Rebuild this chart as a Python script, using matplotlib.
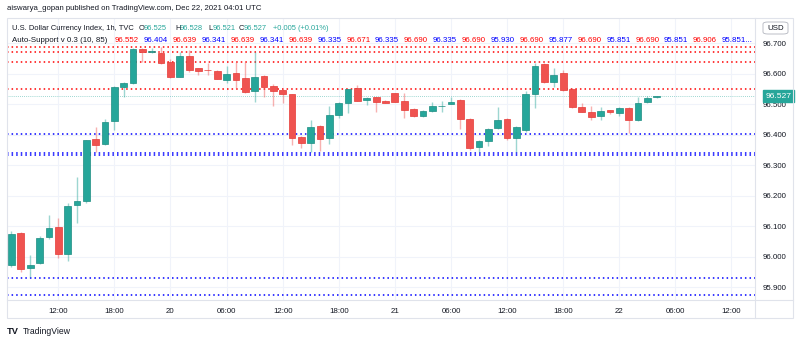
import matplotlib
matplotlib.use("Agg")
import matplotlib.pyplot as plt
from matplotlib.patches import Rectangle, FancyBboxPatch
from matplotlib.lines import Line2D

# hourly DXY candles, 19 Dec 07:00 -> 22 Dec 05:00
opens = [95.974, 96.078, 95.964, 95.979, 96.065, 96.097, 96.010, 96.170, 96.185, 96.386,
         96.369, 96.447, 96.558, 96.569, 96.682, 96.671, 96.670, 96.638, 96.591, 96.659,
         96.619, 96.614, 96.611, 96.580, 96.604, 96.586, 96.545, 96.594, 96.562, 96.548,
         96.534, 96.394, 96.373, 96.430, 96.389, 96.466, 96.506, 96.555, 96.515, 96.524,
         96.512, 96.537, 96.512, 96.485, 96.462, 96.479, 96.494, 96.502, 96.515, 96.452,
         96.362, 96.380, 96.424, 96.452, 96.391, 96.416, 96.533, 96.632, 96.575, 96.602,
         96.550, 96.493, 96.476, 96.462, 96.482, 96.471, 96.490, 96.449, 96.509, 96.525]
highs = [96.085, 96.081, 96.007, 96.070, 96.138, 96.129, 96.176, 96.263, 96.385, 96.427,
         96.451, 96.560, 96.575, 96.684, 96.684, 96.686, 96.688, 96.650, 96.673, 96.679,
         96.621, 96.635, 96.612, 96.626, 96.640, 96.640, 96.673, 96.596, 96.567, 96.550,
         96.536, 96.397, 96.449, 96.434, 96.495, 96.508, 96.552, 96.564, 96.523, 96.526,
         96.514, 96.538, 96.539, 96.487, 96.481, 96.509, 96.512, 96.526, 96.518, 96.455,
         96.385, 96.423, 96.491, 96.455, 96.428, 96.544, 96.637, 96.635, 96.619, 96.612,
         96.553, 96.504, 96.495, 96.492, 96.483, 96.492, 96.492, 96.526, 96.528, 96.528]
lows = [95.966, 95.952, 95.935, 95.977, 96.058, 95.997, 95.988, 96.112, 96.176, 96.345,
        96.366, 96.416, 96.526, 96.567, 96.640, 96.668, 96.633, 96.588, 96.589, 96.608,
        96.597, 96.597, 96.582, 96.572, 96.553, 96.537, 96.509, 96.526, 96.495, 96.506,
        96.367, 96.356, 96.345, 96.349, 96.369, 96.455, 96.473, 96.510, 96.498, 96.476,
        96.504, 96.508, 96.455, 96.458, 96.458, 96.477, 96.476, 96.500, 96.419, 96.352,
        96.345, 96.364, 96.420, 96.385, 96.345, 96.410, 96.488, 96.572, 96.558, 96.545,
        96.488, 96.474, 96.449, 96.450, 96.470, 96.463, 96.408, 96.447, 96.505, 96.521]
closes = [96.075, 95.961, 95.975, 96.063, 96.096, 96.010, 96.167, 96.184, 96.383, 96.367,
          96.443, 96.558, 96.569, 96.682, 96.671, 96.675, 96.635, 96.590, 96.659, 96.613,
          96.610, 96.612, 96.583, 96.599, 96.580, 96.542, 96.591, 96.556, 96.545, 96.533,
          96.389, 96.373, 96.427, 96.387, 96.466, 96.504, 96.550, 96.512, 96.520, 96.509,
          96.506, 96.509, 96.482, 96.462, 96.479, 96.495, 96.496, 96.509, 96.452, 96.358,
          96.380, 96.420, 96.449, 96.391, 96.425, 96.533, 96.627, 96.575, 96.597, 96.548,
          96.491, 96.476, 96.460, 96.480, 96.477, 96.490, 96.449, 96.506, 96.522, 96.527]

# Auto-Support levels as printed in the indicator legend (resistance, support pairs)
resistance = [96.552, 96.639, 96.639, 96.639, 96.671, 96.690, 96.690, 96.690, 96.690, 96.690, 96.906]
support = [96.404, 96.341, 96.341, 96.335, 96.335, 96.335, 95.930, 95.877, 95.851, 95.851, 95.851]

time_ticks = [5, 11, 17, 23, 29, 35, 41, 47, 53, 59, 65, 71, 77]
time_labels = ["12:00", "18:00", "20", "06:00", "12:00", "18:00", "21",
               "06:00", "12:00", "18:00", "22", "06:00", "12:00"]
price_ticks = [95.9, 96.0, 96.1, 96.2, 96.3, 96.4, 96.5, 96.6, 96.7]

last_price = 96.527
summary = [("O", "96.525"), ("H", "96.528"), ("L", "96.521"), ("C", "96.527")]
change = "+0.005 (+0.01%)"

UP = "#26a69a"
DOWN = "#ef5350"
UP_EDGE = "#1c8c80"
DOWN_EDGE = "#e53935"
TEXT = "#131722"
BORDER = "#e0e3eb"
GRID = "#f0f3fa"

plt.rcParams["font.family"] = ["Liberation Sans", "DejaVu Sans"]
FS = 5.7
FS_LEG = 5.45

W, H = 800, 343


def fx(x):
    return x / W


def fy(y):
    return 1 - y / H


fig = plt.figure(figsize=(W / 100, H / 100), dpi=100)
fig.patch.set_facecolor("white")

# chart pane
ax = fig.add_axes([fx(7), fy(300), fx(755) - fx(7), fy(18) - fy(300)])
ax.set_xlim(-0.481, 79.52)
ax.set_ylim(95.859, 96.7836)
for s in ax.spines.values():
    s.set_visible(False)

ax.set_xticks(time_ticks)
ax.set_xticklabels(time_labels)
ax.set_yticks(price_ticks)
ax.set_yticklabels([f"{p:.3f}" for p in price_ticks])
ax.yaxis.tick_right()
ax.tick_params(axis="both", length=0, labelsize=FS, labelcolor=TEXT)
ax.tick_params(axis="x", pad=5.5)
ax.tick_params(axis="y", pad=5.5)
ax.grid(True, color=GRID, linewidth=0.8)
ax.set_axisbelow(True)

# support / resistance levels
for lvl in sorted(set(resistance)):
    ax.axhline(lvl, color="#ff0000", linestyle=(0, (1, 2)), linewidth=1.1, zorder=2)
for lvl in sorted(set(support)):
    ax.axhline(lvl, color="#0000ff", linestyle=(0, (1, 2)), linewidth=1.1, zorder=2)

# last price line
ax.axhline(last_price, color=UP, linestyle=(0, (1, 1.5)), linewidth=0.6, alpha=0.6, zorder=2)

# candles
body_w = 0.72
for i, (o, h, l, c) in enumerate(zip(opens, highs, lows, closes)):
    up = c >= o
    col = UP if up else DOWN
    edge = UP_EDGE if up else DOWN_EDGE
    ax.vlines(i, l, h, color=col, alpha=0.45, linewidth=1.0, zorder=3)
    bottom = min(o, c)
    height = max(abs(c - o), 0.0012)
    ax.add_patch(Rectangle((i - body_w / 2, bottom), body_w, height,
                           facecolor=col, edgecolor=edge, linewidth=0.5, zorder=4))

# last price tag on the price scale
ax.annotate(f"{last_price:.3f}", xy=(1.0, last_price), xycoords=("axes fraction", "data"),
            xytext=(7.5, 0), textcoords="offset points", ha="left", va="center",
            fontsize=FS + 0.4, color="white", annotation_clip=False, zorder=10,
            bbox=dict(boxstyle="square,pad=0.3", facecolor=UP, edgecolor=UP))

# pane borders
fig.add_artist(Rectangle((fx(7), fy(318)), fx(793) - fx(7), fy(18) - fy(318),
                         transform=fig.transFigure, fill=False, edgecolor=BORDER, linewidth=0.8))
fig.add_artist(Line2D([fx(755), fx(755)], [fy(18), fy(318)], color=BORDER, linewidth=0.8))
fig.add_artist(Line2D([fx(7), fx(793)], [fy(300), fy(300)], color=BORDER, linewidth=0.8))

# USD badge
fig.add_artist(FancyBboxPatch((fx(763), fy(34)), fx(25), fy(22) - fy(34),
                              boxstyle="round,pad=0,rounding_size=0.006",
                              transform=fig.transFigure, facecolor="white",
                              edgecolor="#b2b5be", linewidth=0.6))
fig.text(fx(775.5), fy(28), "USD", ha="center", va="center", fontsize=FS, color=TEXT)

# header
fig.text(fx(7), fy(8), "aiswarya_gopan published on TradingView.com, Dec 22, 2021 04:01 UTC",
         ha="left", va="center", fontsize=5.6, color=TEXT)

# legend line 1: symbol and OHLC
fig.text(fx(12), fy(28), "U.S. Dollar Currency Index, 1h, TVC", ha="left", va="center",
         fontsize=FS_LEG, color=TEXT)
ohlc_x = [139, 175, 208, 239]
for x, (k, v) in zip(ohlc_x, summary):
    fig.text(fx(x), fy(28), k, ha="left", va="center", fontsize=FS_LEG, color=TEXT)
    fig.text(fx(x + 5), fy(28), v, ha="left", va="center", fontsize=FS_LEG, color=UP)
fig.text(fx(273), fy(28), change, ha="left", va="center", fontsize=FS_LEG, color=UP)

# legend line 2: indicator levels
fig.text(fx(12), fy(40), "Auto-Support v 0.3 (10, 85)", ha="left", va="center",
         fontsize=FS, color=TEXT)
k = 0
for r, s in zip(resistance, support):
    fig.text(fx(115 + k * 28.9), fy(40), f"{r:.3f}", ha="left", va="center",
             fontsize=FS, color="#ff0000")
    k += 1
    label = f"{s:.3f}" + ("..." if k == 21 else "")
    fig.text(fx(115 + k * 28.9), fy(40), label, ha="left", va="center",
             fontsize=FS, color="#0000ff")
    k += 1

# footer branding
fig.text(fx(7), fy(332), "TV", ha="left", va="center", fontsize=FS + 1, color=TEXT,
         fontweight="heavy")
fig.text(fx(23), fy(332), "TradingView", ha="left", va="center", fontsize=FS + 0.5, color=TEXT)

fig.savefig("out.png", dpi=100)
